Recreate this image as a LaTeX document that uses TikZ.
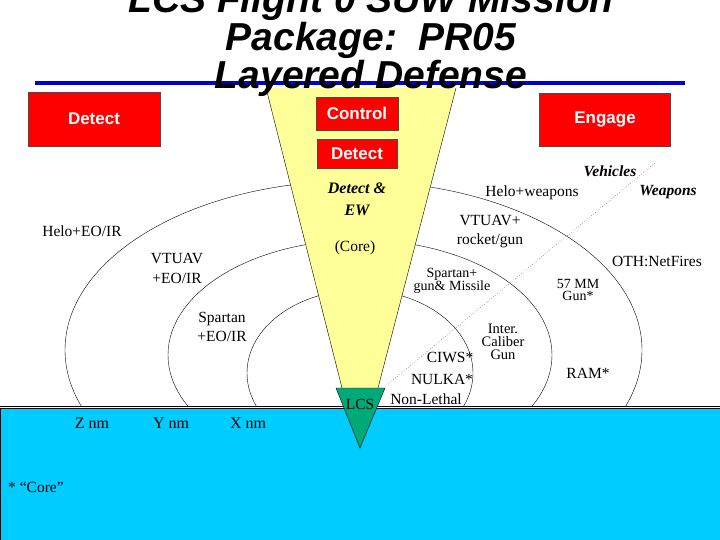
\documentclass[tikz,border=0pt]{standalone}
\usepackage{fontspec}
\setmainfont{Liberation Serif}
\setsansfont{Liberation Sans}
\definecolor{sea}{RGB}{0,204,255}
\definecolor{pale}{RGB}{255,255,153}
\definecolor{lcsgreen}{RGB}{0,170,120}
\definecolor{rulebl}{RGB}{0,0,204}
\definecolor{boxred}{RGB}{255,0,0}
\begin{document}
\begin{tikzpicture}[x=1pt,y=-1pt,font=\fontsize{15.5}{17}\selectfont,
	ttl/.style={anchor=base,inner sep=0pt,font=\sffamily\bfseries\itshape\fontsize{39}{40}\selectfont},
	rbox/.style={draw=black!70,fill=boxred,text=white,inner sep=0pt,font=\sffamily\bfseries\fontsize{17}{18}\selectfont},
	lbl/.style={align=center,inner sep=0pt},
	tight/.style={lbl,font=\fontsize{14}{12.5}\selectfont},
	bi/.style={lbl,font=\bfseries\itshape\fontsize{16}{22}\selectfont}]
	\useasboundingbox (0,0) rectangle (720,540);
	\clip (0,0) rectangle (720,540);
	% range rings, cut at the waterline
	\begin{scope}
		\clip (0,0) rectangle (720,406);
		\draw (353.5,350) ellipse [x radius=288.5pt, y radius=169pt];
		\draw (360,355) ellipse [x radius=192pt, y radius=115pt];
		\draw (360,373) ellipse [x radius=113pt, y radius=83pt];
	\end{scope}
	\draw[rulebl,line width=4pt] (35,83) -- (685,83);
	% funnel
	\coordinate (fTL) at (266,88); \coordinate (fTR) at (456,88);
	\coordinate (fBR) at (378,388); \coordinate (fBL) at (342,388);
	\fill[pale] (fTL) -- (fTR) -- (fBR) -- (fBL) -- cycle;
	\draw (fTL) -- (fBL) (fTR) -- (fBR);
	\coordinate (dotS) at (388,384); \coordinate (dotE) at (655,163);
	\draw[dotted] (dotS) -- (dotE);
	% sea
	\draw (0,406) -- (720,406);
	\draw[fill=sea] (0,408) rectangle (721,541);
	\draw[fill=lcsgreen] (336,388) -- (385,388) -- (360,448) -- cycle;
	\node[lbl] (lcs) at (360,404) {LCS};
	\foreach \y/\t in {13/LCS Flight 0 SUW Mission,51/Package:~~PR05,89/Layered Defense}
		\node[ttl] (ttl\y) at (371,\y) {\t};
	\node[rbox,minimum width=132pt,minimum height=54pt] (detL) at (94,119) {Detect};
	\node[rbox,minimum width=131pt,minimum height=53pt] (eng) at (605,119.5) {Engage};
	\node[rbox,minimum width=82pt,minimum height=33pt] (ctl) at (357,113.5) {Control};
	\node[rbox,minimum width=80pt,minimum height=29pt] (detC) at (357,153.5) {Detect};
	\node[bi] (dew) at (357,199) {Detect \&\\EW};
	\node[lbl] (core) at (355,248) {(Core)};
	% detect side
	\node[lbl] (heloL) at (82,231) {Helo+EO/IR};
	\node[lbl,font=\fontsize{15.5}{20}\selectfont] (vtL) at (177,268) {VTUAV\\+EO/IR};
	\node[lbl,font=\fontsize{15.5}{19}\selectfont] (spL) at (222,327) {Spartan\\+EO/IR};
	\foreach \x/\t in {92/Z,171/Y,248/X} \node[lbl,font=\fontsize{16}{17}\selectfont] (nm\t) at (\x,423) {\t\ nm};
	\node[lbl,anchor=west] (cnote) at (8,487) {* “Core”};
	% engage side
	\node[bi,font=\bfseries\itshape\fontsize{15.5}{17}\selectfont] (veh) at (610,171) {Vehicles};
	\node[bi,font=\bfseries\itshape\fontsize{15.5}{17}\selectfont] (wpn) at (668,192) {Weapons};
	\node[lbl] (heloR) at (532,193) {Helo+weapons};
	\node[lbl,font=\fontsize{15.5}{19}\selectfont] (vtR) at (490,232) {VTUAV+\\rocket/gun};
	\node[tight] (spR) at (452,281) {Spartan+\\gun\& Missile};
	\node[tight] (mm57) at (578,290) {57 MM\\Gun*};
	\node[tight,font=\fontsize{14.5}{13}\selectfont] (inter) at (503,342) {Inter.\\Caliber\\Gun};
	\node[lbl] (oth) at (657,261) {OTH:NetFires};
	\node[lbl] (ram) at (588,373) {RAM*};
	\node[lbl] (ciws) at (450,357) {CIWS*};
	\node[lbl] (nulka) at (442,379) {NULKA*};
	\node[lbl] (nonl) at (426,399) {Non-Lethal};
\end{tikzpicture}
\end{document}
